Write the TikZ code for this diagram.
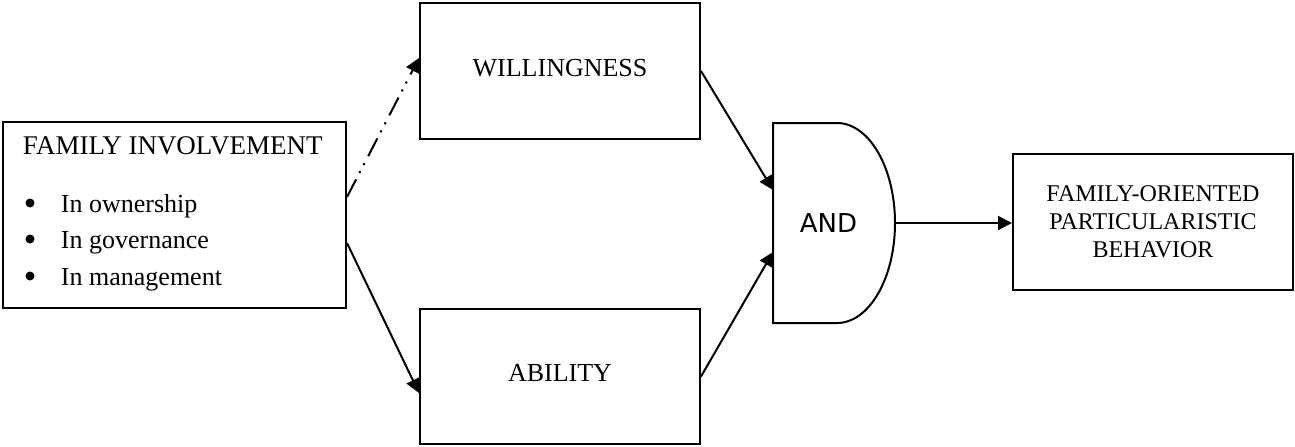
\documentclass[tikz,border=0pt]{standalone}
\usepackage{fontspec}
\setmainfont{Liberation Serif}
\newfontfamily\gatefont{DejaVu Sans}
\usetikzlibrary{arrows.meta}

\begin{document}
\begin{tikzpicture}[x=0.5pt, y=-0.5pt, line width=1pt,
    box/.style = {draw, rectangle, minimum width=140pt, minimum height=68pt, inner sep=0pt, font=\fontsize{13}{15}\selectfont},
    txt/.style = {anchor=base west, inner sep=0pt, font=\fontsize{13}{15}\selectfont},
    bullet/.style = {circle, fill, inner sep=0pt, minimum size=4.5pt},
    link/.style = {->, >={Triangle[length=7pt, width=7pt]}}]
    \useasboundingbox (0,0) rectangle (1295,446);

    % Nodes
    \node[draw, minimum width=171.5pt, minimum height=93pt] (fam) at (174.5,215) {};
    \node[txt, font=\fontsize{13.5}{15}\selectfont] (famtitle) at (22,154) {FAMILY INVOLVEMENT};
    \foreach \i/\y/\t in {1/212/ownership, 2/248/governance, 3/285/management} {
        \node[bullet] (dot\i) at (30,\y-9) {};
        \node[txt] (item\i) at (60,\y) {In \t};
    }
    \node[box, text depth=3.5pt] (will) at (560,71) {WILLINGNESS};
    \node[box, text depth=3.5pt, minimum height=67.5pt] (abil) at (560,376.5) {ABILITY};
    \node[minimum width=61pt, minimum height=100pt, inner sep=0pt, outer sep=0pt, font=\gatefont\fontsize{13}{15}\selectfont] (gate) at (834,223) {AND\kern5.5pt};
    \draw (gate.north west) -- ++(32pt,0) arc[start angle=90, end angle=-90, x radius=29pt, y radius=50pt] -- (gate.south west) -- cycle;
    \node[box, align=center, font=\fontsize{12}{14}\selectfont] (out) at (1153,222) {FAMILY-ORIENTED\\PARTICULARISTIC\\BEHAVIOR};

    % Lines
    \draw[link, dash pattern=on 10pt off 3.5pt on 1pt off 3.5pt on 1pt off 4pt] ([yshift=9pt]fam.east) -- ([yshift=6.5pt]will.west);
    \draw[link] ([yshift=-14pt]fam.east) -- ([yshift=-8.25pt]abil.west);
    \draw[link] (will.east) -- ([yshift=16.5pt]gate.west);
    \draw[link] (abil.east) -- ([yshift=-14.5pt]gate.west);
    \draw[link] (gate.east) -- (gate.east -| out.west);
\end{tikzpicture}
\end{document}
